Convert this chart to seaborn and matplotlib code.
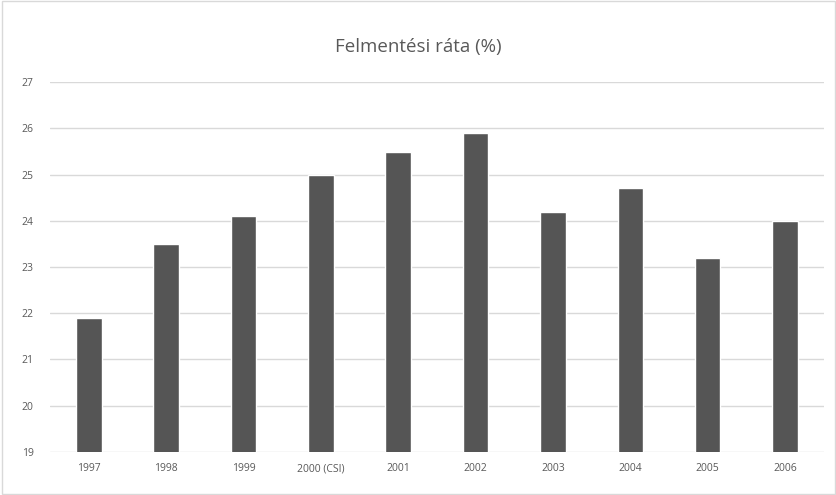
import matplotlib
matplotlib.use("Agg")
import matplotlib.pyplot as plt
import seaborn as sns
import pandas as pd

# --- Data ---
years = ['1997', '1998', '1999', '2000 (CSI)', '2001', '2002', '2003', '2004', '2005', '2006']
rates = [21.9, 23.5, 24.1, 25.0, 25.5, 25.9, 24.2, 24.7, 23.2, 24.0]
y_ticks = [19, 20, 21, 22, 23, 24, 25, 26, 27]

df = pd.DataFrame({'year': years, 'rate': rates})

sns.set_theme(style='white')
plt.rcParams['font.family'] = ['Open Sans', 'DejaVu Sans']

fig = plt.figure(figsize=(8.37, 4.95), dpi=100)
ax = fig.add_axes([0.060, 0.087, 0.924, 0.747])

sns.barplot(data=df, x='year', y='rate', color='#555555', width=0.33,
            saturation=1, ax=ax, zorder=3)

ax.set_ylim(19, 27)
ax.set_yticks(y_ticks)
ax.yaxis.grid(True, color='#d9d9d9', linewidth=1, zorder=0)
ax.set_axisbelow(True)
for s in ax.spines.values():
    s.set_visible(False)
ax.tick_params(axis='both', length=0, labelsize=7.5, colors='#595959')
ax.tick_params(axis='x', pad=8)
ax.tick_params(axis='y', pad=12)
ax.set_xlabel('')
ax.set_ylabel('')

fig.text(0.5, 0.905, 'Felmentési ráta (%)', ha='center', va='center',
         fontsize=13.5, color='#595959')

# chart border
fig.patches.append(plt.Rectangle((0.002, 0.003), 0.996, 0.994, transform=fig.transFigure,
                                 fill=False, edgecolor='#d9d9d9', linewidth=1))

fig.savefig('out.png', dpi=100)
